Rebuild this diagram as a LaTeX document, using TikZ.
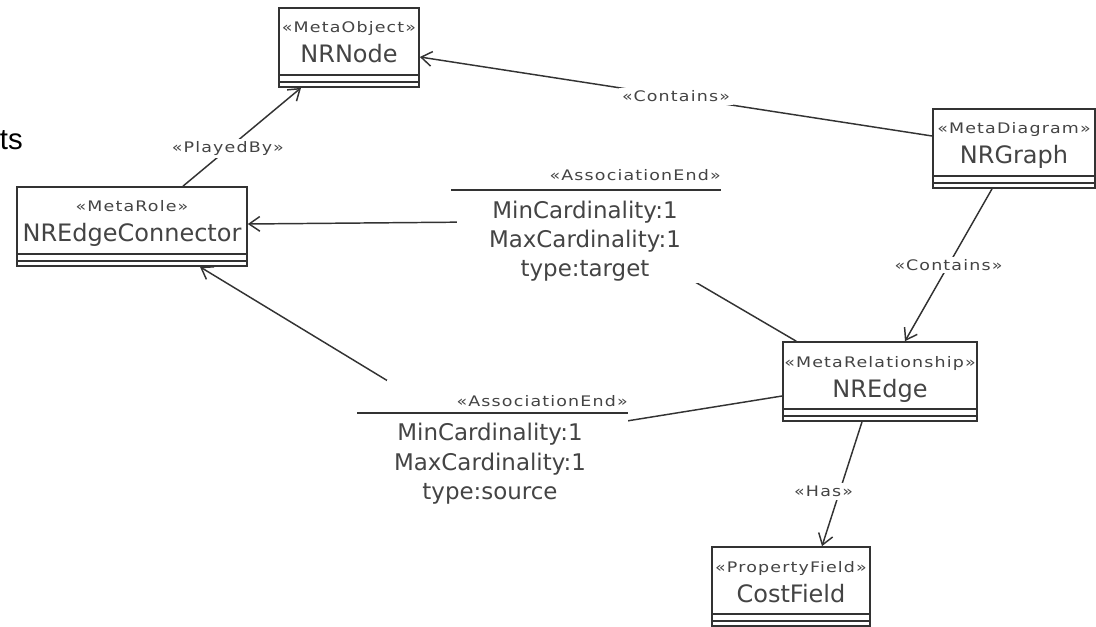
\documentclass[tikz,border=0pt]{standalone}
\usepackage{fontspec}
\setmainfont{DejaVu Sans}
\newfontfamily\stereofont[FakeStretch=1.2,LetterSpace=8]{DejaVu Sans}
\newfontfamily\tsfont{Liberation Sans}
\usetikzlibrary{arrows.meta,fit,calc}
\definecolor{txt}{RGB}{68,68,68}
\definecolor{ln}{RGB}{51,51,51}
\tikzset{
 classbox/.style={draw=ln, line width=1.3pt, inner sep=0pt, fill=white},
 compline/.style={draw=ln, line width=1.3pt},
 stereo/.style={font=\stereofont\fontsize{10.9}{12}\selectfont, text=txt, inner sep=0pt, anchor=base},
 cname/.style={font=\fontsize{18}{21}\selectfont, text=txt, inner sep=0pt, anchor=base},
 attr/.style={font=\fontsize{17.2}{21}\selectfont, text=txt, inner sep=0pt, anchor=base},
 conn/.style={draw=ln, line width=1.1pt, -{Straight Barb[length=8pt,width=11pt,line width=1.1pt]}},
 assocline/.style={draw=ln, line width=1.4pt},
 elabel/.style={font=\stereofont\fontsize{10.9}{12}\selectfont, text=txt, fill=white, inner sep=2pt},
 whitebg/.style={fill=white, inner sep=0pt},
}
\newcommand{\umlclass}[7]{%
 \node[classbox, fit={(#2,#3) (#4,#5)}] (#1) {};
 \draw[compline] (#2,#3+67) -- (#4,#3+67);
 \draw[compline] (#2,#3+74) -- (#4,#3+74);
 \node[stereo] (#1-st) at ({(#2+#4)/2},#3+25) {#6};
 \node[cname] (#1-nm) at ({(#2+#4)/2},#3+55) {#7};
}
\begin{document}
\begin{tikzpicture}[x=0.75pt,y=-0.75pt]
\useasboundingbox (0,0) rectangle (1096,627);

\node[anchor=base east, font=\tsfont\fontsize{22}{24}\selectfont, text=black, inner sep=0pt] (ts) at (23,150) {ts};

\umlclass{nrnode}{279}{8}{419}{87}{«MetaObject»}{NRNode}
\umlclass{nrgraph}{933}{109}{1095}{188}{«MetaDiagram»}{NRGraph}
\umlclass{nrec}{17}{187}{247}{266}{«MetaRole»}{NREdgeConnector}
\umlclass{nredge}{783}{342}{977}{421}{«MetaRelationship»}{NREdge}
\umlclass{costfield}{712}{547}{870}{626}{«PropertyField»}{CostField}

\coordinate (assoct-c) at (591,221);
\coordinate (assocs-c) at (490,443);

\draw[conn] ($(nrgraph.west)+(0,-12.5)$) -- node[elabel]{«Contains»} ($(nrnode.east)+(0,9.5)$);
\draw[conn] ($(nrgraph.south)+(-22,0)$) -- node[elabel]{«Contains»} ($(nredge.north)+(25,0)$);
\draw[conn] ($(nrec.north)+(51,0)$) -- node[elabel, pos=0.38]{«PlayedBy»} ($(nrnode.south)+(-48,0)$);
\draw[conn] ($(nredge.north west)+(14,0)$) -- (assoct-c) -- ($(nrec.east)+(0,-2.5)$);
\draw[conn] ($(nredge.west)+(0,14.5)$) -- (assocs-c) -- ($(nrec.south)+(68,0)$);
\draw[conn] ($(nredge.south)+(-18,0)$) -- node[elabel, pos=0.56, xshift=-12pt]{«Has»} ($(costfield.north)+(31,0)$);

% target association end
\node[whitebg, fit={(457,160) (722,283)}] (assoct) {};
\draw[assocline] (451,190) -- (721,190);
\node[stereo, anchor=base east] (assoct-st) at (721,181) {«AssociationEnd»};
\node[attr] (assoct-a1) at (585,219) {MinCardinality:1};
\node[attr] (assoct-a2) at (585,248) {MaxCardinality:1};
\node[attr] (assoct-a3) at (585,277) {type:target};

% source association end
\node[whitebg, fit={(387,380) (628,505)}] (assocs) {};
\draw[assocline] (357,413) -- (628,413);
\node[stereo, anchor=base east] (assocs-st) at (628,406) {«AssociationEnd»};
\node[attr] (assocs-a1) at (490,440) {MinCardinality:1};
\node[attr] (assocs-a2) at (490,470) {MaxCardinality:1};
\node[attr] (assocs-a3) at (490,499) {type:source};
\end{tikzpicture}
\end{document}
